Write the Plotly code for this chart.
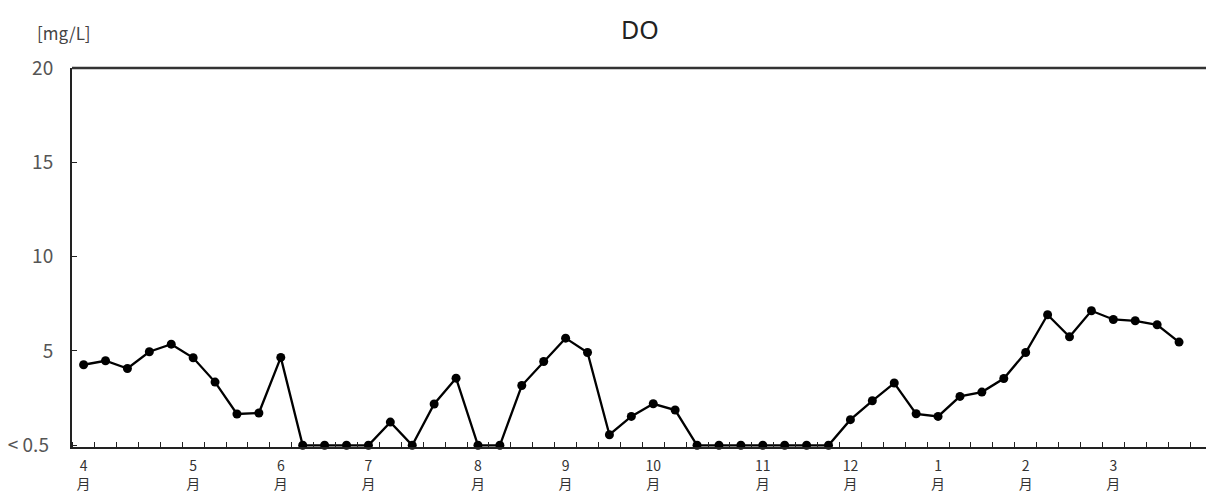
import plotly.graph_objects as go

# Weekly DO measurements (0 means "< 0.5")
do_values = [4.27, 4.48, 4.07, 4.96, 5.36, 4.64, 3.35, 1.66, 1.71, 4.66,
             0, 0, 0, 0, 1.23, 0, 2.19, 3.56, 0, 0,
             3.17, 4.44, 5.68, 4.92, 0.56, 1.53, 2.20, 1.87, 0, 0,
             0, 0, 0, 0, 0, 1.36, 2.36, 3.30, 1.67, 1.53,
             2.59, 2.82, 3.54, 4.92, 6.92, 5.75, 7.13, 6.67, 6.60, 6.39,
             5.47]
sample_index = list(range(len(do_values)))

month_positions = [0, 5, 9, 13, 18, 22, 26, 31, 35, 39, 43, 47]
month_labels = ["4", "5", "6", "7", "8", "9", "10", "11", "12", "1", "2", "3"]

y_tickvals = [0, 5, 10, 15, 20]
y_ticktext = ["<\u00a00.5\u00a0", "5", "10", "15", "20"]

font_family = "Noto Sans CJK JP, DejaVu Sans, sans-serif"

fig = go.Figure()
fig.add_trace(go.Scatter(
    x=sample_index, y=do_values, mode="lines+markers",
    line=dict(color="#000000", width=2.3),
    marker=dict(color="#000000", size=9),
    showlegend=False, cliponaxis=False,
))

fig.update_layout(
    width=1206, height=495,
    margin=dict(l=72, r=0, t=68, b=48, autoexpand=False),
    paper_bgcolor="white", plot_bgcolor="white",
    font=dict(family=font_family, color="#333333"),
    xaxis=dict(
        range=[-0.53, 51.23], automargin=False,
        showgrid=False, zeroline=False,
        showline=True, linecolor="#222222", linewidth=2,
        tickmode="array", tickvals=month_positions,
        ticktext=[f"{m}<br>月" for m in month_labels],
        ticks="", ticklen=0,
        tickfont=dict(size=14, color="#333333", family=font_family),
        ticklabelstandoff=5,
        minor=dict(tickmode="linear", tick0=0.5, dtick=1, ticks="inside",
                   ticklen=5, tickwidth=1, tickcolor="#222222", showgrid=False),
    ),
    yaxis=dict(
        range=[-0.09, 20], automargin=False,
        showgrid=False, zeroline=False,
        showline=True, linecolor="#222222", linewidth=2,
        tickmode="array", tickvals=y_tickvals, ticktext=y_ticktext,
        ticks="inside", ticklen=5, tickwidth=1, tickcolor="#222222",
        tickfont=dict(size=19, color="#555555", family=font_family),
        ticklabelstandoff=13,
    ),
    shapes=[dict(type="line", xref="paper", yref="paper", x0=0, x1=1, y0=1, y1=1,
                 line=dict(color="#333333", width=2.5))],
    annotations=[
        dict(text="DO", x=640, y=29, xref="paper", yref="paper",
             showarrow=False, font=dict(size=25, color="#222222", family="Noto Sans, sans-serif")),
        dict(text="[mg/L]", x=64, y=33, xref="paper", yref="paper",
             showarrow=False, font=dict(size=17, color="#444444", family=font_family)),
    ],
)

# Convert pixel positions of annotations to paper coords
pw = 1206 - 72
ph = 495 - 68 - 48
for a in fig.layout.annotations:
    px, py = a.x, a.y
    a.x = (px - 72) / pw
    a.y = 1 + (68 - py) / ph
    a.xanchor = "center"
    a.yanchor = "middle"

fig.write_html("out.html", config={"displayModeBar": False},
               post_script="document.body.style.margin='0';")
